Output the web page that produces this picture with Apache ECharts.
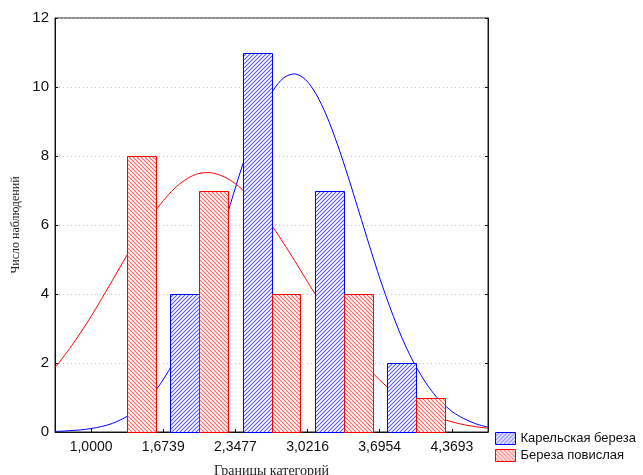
<!DOCTYPE html>
<html>
<head>
<meta charset="utf-8">
<script src="https://cdn.jsdelivr.net/npm/echarts@6/dist/echarts.min.js"></script>
<style>
html,body{margin:0;padding:0;background:#fff;}
#chart{width:643px;height:475px;}
</style>
</head>
<body>
<div id="chart"></div>
<script>
// ---- data ----
const binEdges = [1.0000, 1.6739, 2.3477, 3.0216, 3.6954, 4.3693];
const tickLabels = ['1,0000', '1,6739', '2,3477', '3,0216', '3,6954', '4,3693'];
const seriesNames = ['Карельская береза', 'Береза повислая'];
const karelianCounts = [0, 4, 11, 7, 2];
const pendulaCounts = [8, 7, 4, 4, 1];
const curveX = [0.663, 0.7, 0.8, 0.9, 1.0, 1.1, 1.2, 1.3, 1.4, 1.5, 1.6, 1.7, 1.8, 1.9, 2.0, 2.1, 2.2, 2.3, 2.4, 2.5, 2.6, 2.7, 2.8, 2.9, 3.0, 3.1, 3.2, 3.3, 3.4, 3.5, 3.6, 3.7, 3.8, 3.9, 4.0, 4.1, 4.2, 4.3, 4.4, 4.5, 4.6, 4.706];
const karelianCurveY = [0.02, 0.02, 0.04, 0.06, 0.10, 0.16, 0.25, 0.39, 0.58, 0.84, 1.19, 1.65, 2.21, 2.90, 3.71, 4.61, 5.59, 6.60, 7.60, 8.52, 9.30, 9.90, 10.27, 10.38, 10.22, 9.80, 9.16, 8.34, 7.40, 6.40, 5.39, 4.42, 3.54, 2.75, 2.09, 1.55, 1.11, 0.78, 0.53, 0.36, 0.23, 0.14];
const pendulaCurveY = [1.87, 2.01, 2.42, 2.87, 3.35, 3.87, 4.40, 4.94, 5.46, 5.96, 6.41, 6.80, 7.12, 7.35, 7.49, 7.52, 7.45, 7.30, 7.06, 6.74, 6.36, 5.93, 5.46, 4.97, 4.46, 3.96, 3.47, 3.00, 2.56, 2.17, 1.81, 1.49, 1.21, 0.97, 0.77, 0.61, 0.47, 0.36, 0.27, 0.20, 0.15, 0.11];
const yTicks = { min: 0, max: 12, interval: 2 };

// ---- helpers ----
function makeHatch(color, dir) {
  const s = 4;
  const c = document.createElement('canvas');
  c.width = s; c.height = s;
  const ctx = c.getContext('2d');
  ctx.fillStyle = '#ffffff';
  ctx.fillRect(0, 0, s, s);
  ctx.strokeStyle = color;
  ctx.lineWidth = 1.1;
  ctx.beginPath();
  for (let k = -1; k <= 1; k++) {
    if (dir === '/') {
      ctx.moveTo(-1 + k * s, s + 1);
      ctx.lineTo(s + 1 + k * s, -1);
    } else {
      ctx.moveTo(-1 + k * s, -1);
      ctx.lineTo(s + 1 + k * s, s + 1);
    }
  }
  ctx.stroke();
  return { image: c, repeat: 'repeat' };
}
const BLUE_LINE = '#5f5fff';
const RED_LINE = '#ff5f5f';

const binW = binEdges[1] - binEdges[0];
const axisMin = binEdges[0] - binW / 2;
const axisMax = binEdges[binEdges.length - 1] + binW / 2;

function barSeries(name, counts, fromFrac, toFrac, hatchColor, hatchDir, border) {
  const data = counts.map((v, i) => [binEdges[i], v, binEdges[i + 1]]);
  const fill = makeHatch(hatchColor, hatchDir);
  return {
    type: 'custom',
    name: name,
    z: 3,
    data: data,
    encode: { x: [0, 2], y: 1 },
    itemStyle: { color: makeHatch(hatchColor, hatchDir), borderColor: border, borderWidth: 1 },
    renderItem: function (params, api) {
      const lo = api.value(0), hi = api.value(2), v = api.value(1);
      if (!v) return null;
      const w = hi - lo;
      const p0 = api.coord([lo + w * fromFrac, v]);
      const p1 = api.coord([lo + w * toFrac, 0]);
      return {
        type: 'rect',
        shape: {
          x: Math.round(p0[0]) + 0.5,
          y: Math.round(p0[1]) + 0.5,
          width: Math.round(p1[0]) - Math.round(p0[0]),
          height: Math.round(p1[1]) - Math.round(p0[1])
        },
        style: { fill: fill, stroke: border, lineWidth: 1 }
      };
    }
  };
}

function curveSeries(ys, color) {
  return {
    type: 'line',
    z: 1,
    smooth: 0.3,
    showSymbol: false,
    silent: true,
    lineStyle: { color: color, width: 1 },
    itemStyle: { color: color },
    data: curveX.map((x, i) => [x, ys[i]])
  };
}

const chart = echarts.init(document.getElementById('chart'), null, { renderer: 'canvas' });
const labelFont = 'Liberation Sans, Arial, sans-serif';
const serifFont = 'Liberation Serif, Times New Roman, serif';

chart.setOption({
  animation: false,
  backgroundColor: '#ffffff',
  grid: {
    left: 55, right: 155, top: 18, bottom: 43,
    containLabel: false,
    outerBoundsMode: 'none',
    show: true, borderColor: '#222', borderWidth: 1, backgroundColor: 'transparent'
  },
  legend: {
    orient: 'vertical',
    left: 495,
    top: 432,
    padding: 0,
    itemWidth: 20,
    itemHeight: 12,
    itemGap: 4,
    textStyle: { fontFamily: labelFont, fontSize: 13, color: '#111' },
    data: [
      { name: seriesNames[0], icon: 'rect', itemStyle: { color: makeHatch(BLUE_LINE, '/'), borderColor: '#0000ff', borderWidth: 1 } },
      { name: seriesNames[1], icon: 'rect', itemStyle: { color: makeHatch(RED_LINE, '\\'), borderColor: '#ff0000', borderWidth: 1 } }
    ]
  },
  xAxis: {
    type: 'value',
    min: axisMin,
    max: axisMax,
    name: 'Границы категорий',
    nameLocation: 'middle',
    nameGap: 32,
    nameTextStyle: { fontFamily: serifFont, fontSize: 14, color: '#222' },
    axisLine: { show: true, onZero: false, lineStyle: { color: '#111' } },
    axisTick: { show: true, inside: true, length: 3, customValues: binEdges, lineStyle: { color: '#111' } },
    axisLabel: {
      customValues: binEdges,
      formatter: function (v) {
        let best = 0;
        binEdges.forEach((e, i) => { if (Math.abs(e - v) < Math.abs(binEdges[best] - v)) best = i; });
        return tickLabels[best];
      },
      fontFamily: labelFont, fontSize: 14, color: '#111', margin: 8
    },
    splitLine: { show: false }
  },
  yAxis: [{
    type: 'value',
    min: yTicks.min,
    max: yTicks.max,
    interval: yTicks.interval,
    name: 'Число наблюдений',
    nameLocation: 'middle',
    nameGap: 27,
    nameTextStyle: { fontFamily: serifFont, fontSize: 12, color: '#222' },
    axisLine: { show: true, lineStyle: { color: '#111' } },
    axisTick: { show: true, inside: true, length: 3, lineStyle: { color: '#111' } },
    axisLabel: { fontFamily: labelFont, fontSize: 15, color: '#111', margin: 6 },
    splitLine: { show: true, lineStyle: { color: '#c4c4c4', type: [1, 3], width: 1 } }
  }, {
    type: 'value',
    position: 'right',
    min: yTicks.min,
    max: yTicks.max,
    interval: yTicks.interval,
    axisLine: { show: true, lineStyle: { color: '#111' } },
    axisTick: { show: true, inside: true, length: 3, lineStyle: { color: '#111' } },
    axisLabel: { show: false },
    splitLine: { show: false }
  }],
  series: [
    curveSeries(karelianCurveY, '#0000ff'),
    curveSeries(pendulaCurveY, '#ff0000'),
    barSeries(seriesNames[0], karelianCounts, 0.1, 0.5, BLUE_LINE, '/', '#0000ff'),
    barSeries(seriesNames[1], pendulaCounts, 0.5, 0.9, RED_LINE, '\\', '#ff0000')
  ]
});
</script>
</body>
</html>
